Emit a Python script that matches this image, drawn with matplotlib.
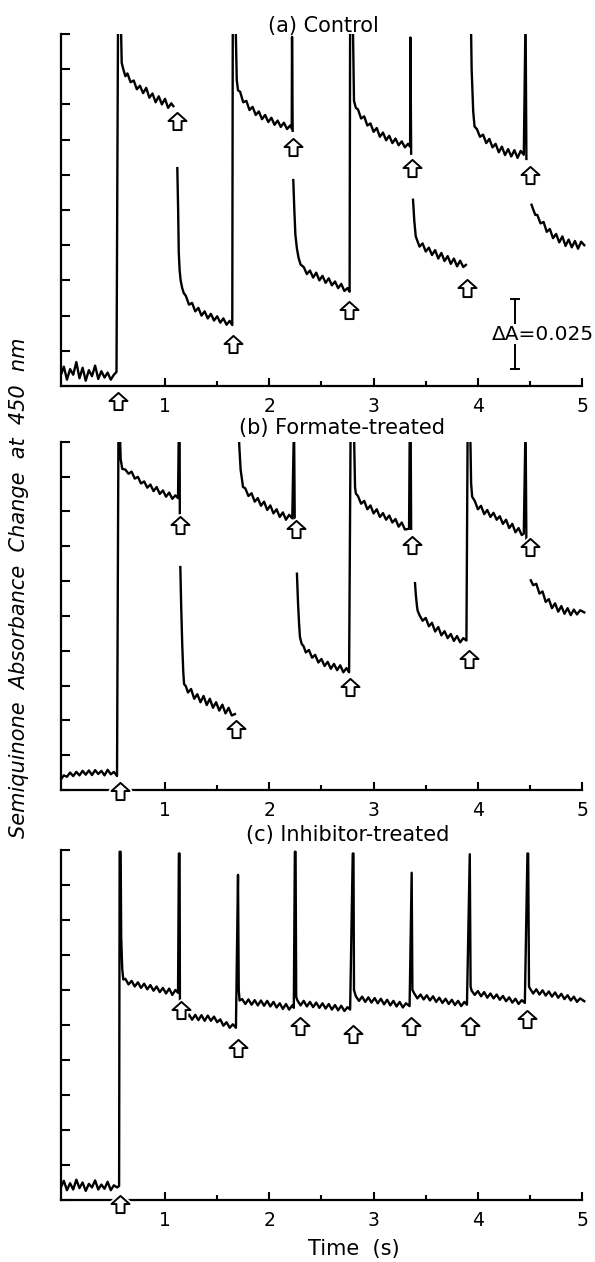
import numpy as np
import matplotlib
matplotlib.use("Agg")
import matplotlib.pyplot as plt
from matplotlib.path import Path

plt.rcParams['font.family'] = ['DejaVu Sans']

# ---------------- data (time in s, signal in tick units; 2 units = dA 0.025) ----------------
# Panel (a) Control
a1_t = [0.00,0.03,0.06,0.09,0.12,0.15,0.18,0.21,0.24,0.27,0.30,0.33,0.36,0.39,0.42,0.45,0.48,0.51,0.535,0.55,0.575,0.585,
        0.60,0.62,0.64,0.67,0.70,0.73,0.76,0.79,0.82,0.85,0.88,0.91,0.94,0.97,1.00,1.03,1.06,1.08]
a1_y = [0.30,0.55,0.18,0.48,0.32,0.68,0.22,0.52,0.15,0.45,0.28,0.58,0.20,0.42,0.24,0.38,0.18,0.32,0.40,10.6,10.6,9.18,
        9.00,8.80,8.88,8.63,8.68,8.43,8.53,8.32,8.47,8.19,8.31,8.06,8.23,8.00,8.16,7.90,8.03,7.95]
a2_t = [1.118,1.126,1.132,1.14,1.15,1.165,1.18,1.20,1.23,1.26,1.29,1.32,1.35,1.38,1.41,1.44,1.47,1.50,1.53,1.56,1.59,1.62,1.645,
        1.65,1.675,1.688,1.70,1.72,1.75,1.78,1.81,1.84,1.87,1.90,1.93,1.96,1.99,2.02,2.05,2.08,2.11,2.14,2.17,2.20,2.215,2.218,2.224]
a2_y = [6.19,5.0,3.8,3.3,3.0,2.78,2.64,2.56,2.31,2.36,2.12,2.22,2.00,2.12,1.92,2.05,1.86,1.98,1.80,1.92,1.74,1.85,1.73,
        10.6,10.6,8.69,8.40,8.36,8.06,8.10,7.84,7.93,7.70,7.80,7.58,7.70,7.50,7.62,7.42,7.54,7.36,7.48,7.30,7.40,7.32,9.92,7.25]
a3_t = [2.23,2.24,2.25,2.265,2.28,2.30,2.33,2.36,2.39,2.42,2.45,2.48,2.51,2.54,2.57,2.60,2.63,2.66,2.69,2.72,2.75,2.77,
        2.775,2.80,2.812,2.83,2.85,2.88,2.91,2.94,2.97,3.00,3.03,3.06,3.09,3.12,3.15,3.18,3.21,3.24,3.27,3.30,3.33,3.35,3.353,3.36]
a3_y = [5.85,5.0,4.3,3.9,3.65,3.45,3.38,3.18,3.28,3.08,3.22,3.00,3.13,2.93,3.06,2.86,2.97,2.78,2.90,2.70,2.78,2.68,
        10.6,10.6,8.1,7.9,7.86,7.60,7.66,7.40,7.46,7.22,7.33,7.08,7.20,6.98,7.11,6.90,7.03,6.84,6.95,6.78,6.88,6.80,9.9,6.6]
a4_t = [3.378,3.39,3.404,3.42,3.44,3.47,3.50,3.53,3.56,3.59,3.62,3.65,3.68,3.71,3.74,3.77,3.80,3.83,3.86,3.885]
a4_y = [5.29,4.7,4.25,4.12,3.96,4.05,3.82,3.93,3.72,3.86,3.62,3.78,3.55,3.69,3.47,3.62,3.40,3.56,3.38,3.44]
a5_t = [3.932,3.94,3.955,3.968,3.99,4.02,4.05,4.08,4.11,4.14,4.17,4.20,4.23,4.26,4.29,4.32,4.35,4.38,4.41,4.44,4.457,4.465]
a5_y = [10.6,9.0,7.8,7.37,7.30,7.08,7.14,6.90,7.02,6.78,6.88,6.64,6.80,6.56,6.73,6.52,6.70,6.48,6.68,6.57,10.6,6.45]
a6_t = [4.514,4.53,4.55,4.57,4.60,4.63,4.66,4.69,4.72,4.75,4.78,4.81,4.84,4.87,4.90,4.93,4.96,4.99,5.02]
a6_y = [5.15,5.02,4.86,4.86,4.62,4.66,4.38,4.46,4.20,4.32,4.08,4.25,3.98,4.16,3.94,4.12,3.90,4.10,4.00]
a_arrow_t = [0.553, 1.112, 1.652, 2.23, 2.767, 3.367, 3.895, 4.496]
a_arrow_y = [-0.44, 7.54, 1.18, 6.80, 2.16, 6.19, 2.78, 6.00]

# Panel (b) Formate-treated
b1_t = [0.00,0.03,0.06,0.09,0.12,0.15,0.18,0.21,0.24,0.27,0.30,0.33,0.36,0.39,0.42,0.45,0.48,0.51,0.54,0.554,0.565,0.575,
        0.59,0.62,0.65,0.68,0.71,0.74,0.77,0.80,0.83,0.86,0.89,0.92,0.95,0.98,1.01,1.04,1.07,1.10,1.125,1.133,1.14,1.142]
b1_y = [0.30,0.42,0.38,0.50,0.40,0.52,0.42,0.55,0.44,0.56,0.43,0.57,0.46,0.55,0.42,0.58,0.45,0.52,0.40,10.6,10.6,9.5,
        9.22,9.20,9.08,9.14,8.94,8.99,8.80,8.86,8.68,8.77,8.58,8.70,8.50,8.60,8.42,8.54,8.36,8.46,8.38,10.6,10.6,7.94]
b2_t = [1.147,1.155,1.165,1.175,1.183,1.20,1.22,1.25,1.28,1.31,1.34,1.37,1.40,1.43,1.46,1.49,1.52,1.55,1.58,1.61,1.64,1.67]
b2_y = [6.4,5.3,4.2,3.4,3.04,2.98,2.80,2.90,2.62,2.75,2.52,2.70,2.44,2.62,2.36,2.52,2.28,2.45,2.20,2.36,2.14,2.18]
b3_t = [1.704,1.712,1.725,1.748,1.77,1.80,1.83,1.86,1.89,1.92,1.95,1.98,2.01,2.04,2.07,2.10,2.13,2.16,2.19,2.22,2.237,2.244]
b3_y = [10.6,9.9,9.2,8.7,8.66,8.44,8.52,8.28,8.38,8.16,8.28,8.04,8.17,7.94,8.06,7.84,7.97,7.76,7.90,7.80,10.6,7.7]
b4_t = [2.265,2.275,2.285,2.294,2.31,2.33,2.35,2.38,2.41,2.44,2.47,2.50,2.53,2.56,2.59,2.62,2.65,2.68,2.71,2.74,2.765,
        2.78,2.81,2.822,2.83,2.85,2.88,2.91,2.94,2.97,3.00,3.03,3.06,3.09,3.12,3.15,3.18,3.21,3.24,3.27,3.30,3.34,3.347,3.355,3.36]
b4_y = [6.21,5.4,4.8,4.39,4.2,4.12,3.95,4.02,3.80,3.88,3.66,3.76,3.56,3.68,3.48,3.62,3.44,3.58,3.38,3.50,3.38,
        10.6,10.6,8.7,8.51,8.44,8.22,8.30,8.06,8.17,7.94,8.06,7.84,7.95,7.76,7.88,7.68,7.78,7.56,7.68,7.48,7.50,10.6,10.6,7.5]
b5_t = [3.397,3.405,3.415,3.422,3.44,3.47,3.50,3.53,3.56,3.59,3.62,3.65,3.68,3.71,3.74,3.77,3.80,3.83,3.86,3.89,
        3.902,3.925,3.935,3.945,3.97,4.00,4.03,4.06,4.09,4.12,4.15,4.18,4.21,4.24,4.27,4.30,4.33,4.36,4.39,4.42,4.44,4.457,4.465]
b5_y = [5.94,5.6,5.3,5.15,5.02,4.86,4.94,4.70,4.80,4.55,4.68,4.44,4.56,4.36,4.48,4.28,4.42,4.24,4.36,4.29,
        10.6,10.6,8.8,8.42,8.30,8.06,8.16,7.92,8.04,7.84,7.96,7.76,7.86,7.64,7.76,7.52,7.64,7.40,7.52,7.32,7.36,10.6,7.07]
b6_t = [4.507,4.53,4.56,4.59,4.62,4.65,4.68,4.71,4.74,4.77,4.80,4.83,4.86,4.89,4.92,4.95,4.98,5.02]
b6_y = [6.02,5.88,5.92,5.64,5.70,5.40,5.48,5.22,5.36,5.12,5.28,5.06,5.22,5.02,5.18,5.04,5.16,5.10]
b_arrow_t = [0.57, 1.147, 1.682, 2.257, 2.774, 3.367, 3.913, 4.496]
b_arrow_y = [-0.03, 7.60, 1.75, 7.50, 2.95, 7.02, 3.76, 6.98]

# Panel (c) Inhibitor-treated
c1_t = [0.00,0.03,0.06,0.09,0.12,0.15,0.18,0.21,0.24,0.27,0.30,0.33,0.36,0.39,0.42,0.45,0.48,0.51,0.54,
        0.56,0.565,0.575,0.58,0.59,0.60,
        0.62,0.65,0.68,0.71,0.74,0.77,0.80,0.83,0.86,0.89,0.92,0.95,0.98,1.01,1.04,1.07,1.10,1.125,
        1.133,1.14,1.143,1.15,
        1.17,1.20,1.23,1.26,1.29,1.32,1.35,1.38,1.41,1.44,1.47,1.50,1.53,1.56,1.59,1.62,1.65,1.68,
        1.70,1.707,1.715,
        1.74,1.77,1.80,1.83,1.86,1.89,1.92,1.95,1.98,2.01,2.04,2.07,2.10,2.13,2.16,2.19,2.22,2.235,
        2.245,2.252,2.258,
        2.27,2.30,2.33,2.36,2.39,2.42,2.45,2.48,2.51,2.54,2.57,2.60,2.63,2.66,2.69,2.72,2.75,2.775,
        2.80,2.807,2.812,
        2.83,2.86,2.89,2.92,2.95,2.98,3.01,3.04,3.07,3.10,3.13,3.16,3.19,3.22,3.25,3.28,3.31,3.345,
        3.365,3.372,
        3.39,3.42,3.45,3.48,3.51,3.54,3.57,3.60,3.63,3.66,3.69,3.72,3.75,3.78,3.81,3.84,3.87,3.895,
        3.922,3.93,
        3.94,3.97,4.00,4.03,4.06,4.09,4.12,4.15,4.18,4.21,4.24,4.27,4.30,4.33,4.36,4.39,4.42,4.45,
        4.475,4.482,4.49,
        4.50,4.53,4.56,4.59,4.62,4.65,4.68,4.71,4.74,4.77,4.80,4.83,4.86,4.89,4.92,4.95,4.98,5.02]
c1_y = [0.35,0.55,0.28,0.48,0.30,0.58,0.34,0.50,0.26,0.46,0.36,0.56,0.30,0.44,0.32,0.52,0.28,0.42,0.36,
        0.40,9.95,9.95,7.5,6.6,6.3,
        6.32,6.16,6.26,6.10,6.22,6.06,6.18,6.02,6.14,5.98,6.10,5.94,6.06,5.90,6.04,5.86,6.00,5.92,
        9.9,9.9,5.7,5.4,
        5.32,5.18,5.30,5.15,5.29,5.14,5.28,5.12,5.27,5.12,5.24,5.08,5.16,4.98,5.08,4.92,5.02,4.92,
        9.29,6.0,5.7,
        5.74,5.60,5.73,5.58,5.71,5.56,5.70,5.55,5.69,5.53,5.66,5.50,5.62,5.46,5.60,5.44,5.56,5.49,
        9.95,9.95,5.8,
        5.70,5.56,5.69,5.53,5.66,5.51,5.64,5.49,5.62,5.47,5.60,5.44,5.57,5.42,5.55,5.40,5.51,5.44,
        9.9,9.9,6.0,
        5.82,5.69,5.81,5.66,5.79,5.64,5.77,5.62,5.75,5.59,5.72,5.56,5.69,5.53,5.66,5.50,5.62,5.54,
        9.35,6.0,
        5.90,5.76,5.87,5.73,5.85,5.70,5.82,5.66,5.78,5.63,5.75,5.60,5.72,5.57,5.69,5.54,5.66,5.58,
        9.88,6.1,
        5.98,5.86,5.97,5.82,5.94,5.78,5.90,5.76,5.87,5.72,5.83,5.68,5.79,5.64,5.75,5.60,5.71,5.63,
        9.9,9.9,6.1,
        6.04,5.90,6.02,5.87,5.99,5.84,5.96,5.81,5.93,5.78,5.89,5.74,5.85,5.70,5.81,5.66,5.76,5.68]
c_arrow_t = [0.569, 1.158, 1.704, 2.294, 2.803, 3.36, 3.924, 4.472]
c_arrow_y = [-0.10, 5.44, 4.35, 4.97, 4.73, 4.97, 4.97, 5.16]

# scale bar (panel a)
scale_t = 4.356
scale_lo, scale_hi = 0.48, 2.47
scale_label = "\u0394A=0.025"

x_major = [1, 2, 3, 4, 5]
x_major_labels = ['1', '2', '3', '4', '5']
x_minor = [1.5, 2.5, 3.5, 4.5]
y_ticks = list(range(11))

titles = ["(a) Control", "(b) Formate-treated", "(c) Inhibitor-treated"]
ylabel = "Semiquinone  Absorbance  Change  at  450  nm"
xlabel = "Time  (s)"

# ---------------- figure ----------------
W, H = 595, 1262
fig = plt.figure(figsize=(W / 100, H / 100), dpi=100)

def rect(top_px, bot_px):
    left = 60.7
    width = 5.05 * 104.3
    return [left / W, 1 - bot_px / H, width / W, (bot_px - top_px) / H]

ax_a = fig.add_axes(rect(34, 386))
ax_b = fig.add_axes(rect(441.7, 790))
ax_c = fig.add_axes(rect(850, 1200))

verts = [(0, 0.95), (1, 0.05), (0.45, 0.05), (0.45, -0.95), (-0.45, -0.95), (-0.45, 0.05), (-1, 0.05), (0, 0.95)]
codes = [Path.MOVETO] + [Path.LINETO] * 6 + [Path.CLOSEPOLY]
arrow_marker = Path(verts, codes)

panels = [
    (ax_a, [(a1_t, a1_y), (a2_t, a2_y), (a3_t, a3_y), (a4_t, a4_y), (a5_t, a5_y), (a6_t, a6_y)], a_arrow_t, a_arrow_y),
    (ax_b, [(b1_t, b1_y), (b2_t, b2_y), (b3_t, b3_y), (b4_t, b4_y), (b5_t, b5_y), (b6_t, b6_y)], b_arrow_t, b_arrow_y),
    (ax_c, [(c1_t, c1_y)], c_arrow_t, c_arrow_y),
]

for ax, segs, at, ay in panels:
    for t, y in segs:
        ax.plot(t, y, color='black', lw=1.7, solid_joinstyle='round')
    ax.plot(at, ay, ls='none', marker=arrow_marker, ms=13, mfc='white', mec='white',
            mew=4, clip_on=False, zorder=4)
    ax.plot(at, ay, ls='none', marker=arrow_marker, ms=13, mfc='white', mec='black',
            mew=1.4, clip_on=False, zorder=5)
    ax.set_xlim(0, 5.05)
    ax.set_ylim(0, 10)
    for s in ['top', 'right']:
        ax.spines[s].set_visible(False)
    ax.spines['left'].set_linewidth(1.6)
    ax.spines['bottom'].set_linewidth(1.6)
    ax.spines['bottom'].set_bounds(0, 5)
    ax.spines['left'].set_bounds(0, 10)
    ax.set_xticks(x_major)
    ax.set_xticklabels(x_major_labels)
    ax.set_xticks(x_minor, minor=True)
    ax.set_yticks(y_ticks)
    ax.set_yticklabels([])
    ax.tick_params(axis='x', which='major', direction='in', length=6, width=1.5, pad=8, labelsize=13.5)
    ax.tick_params(axis='x', which='minor', direction='in', length=3.5, width=1.5)
    ax.tick_params(axis='y', which='major', direction='in', length=6.5, width=1.5)
    ax.tick_params(axis='y', which='minor', left=False)
    ax.patch.set_visible(False)

# scale bar
ax_a.plot([scale_t, scale_t], [scale_lo, scale_hi], color='black', lw=1.4)
ax_a.plot([scale_t - 0.04, scale_t + 0.04], [scale_hi, scale_hi], color='black', lw=1.4)
ax_a.plot([scale_t - 0.04, scale_t + 0.04], [scale_lo, scale_lo], color='black', lw=1.4)
ax_a.text(4.62, (scale_lo + scale_hi) / 2, scale_label, ha='center', va='center', fontsize=14.5,
          bbox=dict(facecolor='white', edgecolor='none', pad=0.5), zorder=6)

fig.text(323 / W, 1 - 26 / H, titles[0], ha='center', va='center', fontsize=15)
fig.text(342 / W, 1 - 428 / H, titles[1], ha='center', va='center', fontsize=15)
fig.text(348 / W, 1 - 835 / H, titles[2], ha='center', va='center', fontsize=15)
fig.text(354 / W, 1 - 1249 / H, xlabel, ha='center', va='center', fontsize=15)
fig.text(19 / W, 1 - 588 / H, ylabel, ha='center', va='center', rotation=90, fontsize=15,
         style='italic')

fig.savefig("out.png", dpi=100)
